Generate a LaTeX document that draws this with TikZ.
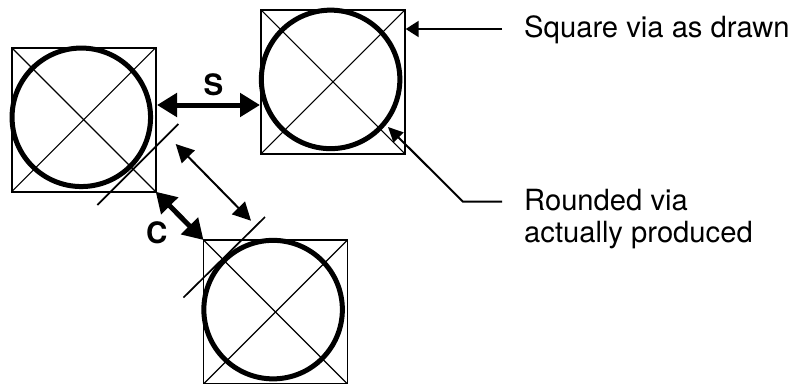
\documentclass[tikz,border=0pt]{standalone}
\usepackage{fontspec}
\setmainfont{TeX Gyre Heros}
\usetikzlibrary{arrows.meta}
\tikzset{
  viasq/.style={draw,line width=1.7pt,minimum size=144pt,inner sep=0pt,outer sep=0pt},
  viacirc/.style={circle,draw,line width=5pt,minimum size=138.5pt,inner sep=0pt,outer sep=0pt},
  diag/.style={line width=1.1pt},
  tang/.style={line width=1.7pt},
  bigarrow/.style={line width=5pt,{Triangle[length=20pt,width=23pt]}-{Triangle[length=20pt,width=23pt]}},
  midarrow/.style={line width=2pt,{Triangle[length=18pt,width=18pt]}-{Triangle[length=18pt,width=18pt]}},
  leader/.style={line width=2pt},
  lbl/.style={font=\fontsize{29.2}{32}\selectfont,align=left,anchor=base west,inner sep=0pt},
  dim/.style={font=\bfseries\fontsize{29.5}{32}\selectfont,inner sep=0pt}
}
\newcommand{\viaat}[3]{%
  \node[viasq] (#1) at (#2,#3) {};
  \draw[diag] (#1.north west) -- (#1.south east);
  \draw[diag] (#1.north east) -- (#1.south west);
  \node[viacirc] (#1c) at ([shift={(-2.4,-2.4)}]#1.center) {};
}
\begin{document}
\begin{tikzpicture}[x=1pt,y=-1pt]
\useasboundingbox (0,0) rectangle (791,383);
\viaat{a}{83.7}{119.7}
\viaat{b}{333}{81.8}
\viaat{c}{275.5}{312}
% tangent lines
\coordinate (t1a) at (97.3,205);
\coordinate (t1b) at (178.3,124);
\coordinate (t2a) at (183.5,297.5);
\coordinate (t2b) at (265,217);
\draw[tang] (t1a) -- (t1b);
\draw[tang] (t2a) -- (t2b);
% S
\coordinate (s1) at (157,105);
\coordinate (s2) at (260,105);
\draw[bigarrow] (s1) -- (s2);
\node[dim] (S) at (213.5,85) {S};
% C
\draw[bigarrow] (a.south east) -- (c.north west);
\node[dim] (C) at (156.7,232.7) {C};
% spacing
\coordinate (m1) at (175.7,144);
\coordinate (m2) at (251,220.7);
\draw[midarrow] (m1) -- (m2);
% labels
\node[lbl] (L1) at (524,37) {Square via as drawn};
\node[lbl] (L2) at (524,242) {Rounded via\\actually produced};
% leaders
\coordinate (q2) at (502,29);
\coordinate (q3) at (405.7,29);
\draw[leader,-{Triangle[length=13pt,width=16pt]}] (q2) -- (q3);
\coordinate (r1) at (502,201.7);
\coordinate (r2) at (463,201.7);
\coordinate (r3) at (388,127);
\draw[leader,-{Triangle[length=15pt,width=14pt]}] (r1) -- (r2) -- (r3);
\end{tikzpicture}
\end{document}
